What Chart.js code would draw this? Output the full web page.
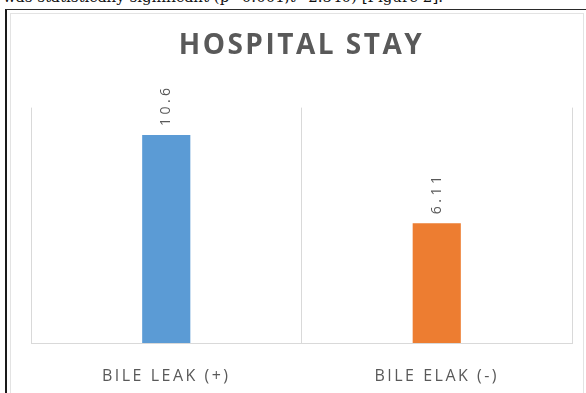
<!DOCTYPE html>
<html>
<head>
<meta charset="utf-8">
<script src="https://cdn.jsdelivr.net/npm/chart.js@4/dist/chart.umd.min.js"></script>
<style>
  html, body { margin: 0; padding: 0; background: #fff; overflow: hidden; }
  body { width: 586px; height: 393px; position: relative; }
  #lead {
    position: absolute; left: 3px; top: -12px; white-space: nowrap;
    font-family: "DejaVu Serif", serif; font-size: 15px; color: #111;
  }
  #frame {
    position: absolute; left: 5px; top: 9px; width: 590px; height: 400px;
    border-left: 2px solid #1a1a1a; border-top: 1px solid #2a2a2a;
  }
  #panel {
    position: absolute; left: 10px; top: 13px; width: 572px; height: 400px;
    border: 1px solid #e3e3e3; background: #fff;
  }
  #wrap { position: absolute; left: 0; top: 0; width: 586px; height: 393px; }
</style>
</head>
<body>
<div id="lead">was statistically significant (p=0.001,t=2.540) [Figure 2].</div>
<div id="frame"></div>
<div id="panel"></div>
<div id="wrap"><canvas id="chart" width="586" height="393"></canvas></div>
<script>
// Mean hospital stay (days) by bile leak status
const categories = ["BILE LEAK (+)", "BILE ELAK (-)"];
const stayDays = [10.6, 6.11];
const barColors = ["#5B9BD5", "#ED7D31"];
const chartTitle = "HOSPITAL STAY";

const textGray = "#595959";

// Spaced lettering for title and axis labels
const letterSpacingPlugin = {
  id: "letterSpacing",
  beforeDraw(chart) { chart.ctx.letterSpacing = "2.5px"; }
};

// Vertical value labels above each bar
const valueLabels = {
  id: "valueLabels",
  afterDatasetsDraw(chart) {
    const ctx = chart.ctx;
    const meta = chart.getDatasetMeta(0);
    meta.data.forEach((bar, i) => {
      ctx.save();
      ctx.letterSpacing = "3.5px";
      ctx.translate(bar.x, bar.y - 9);
      ctx.rotate(-Math.PI / 2);
      ctx.font = "14px 'Open Sans'";
      ctx.fillStyle = textGray;
      ctx.textAlign = "left";
      ctx.textBaseline = "middle";
      ctx.fillText(String(stayDays[i]), 0, 0);
      ctx.restore();
    });
  }
};

new Chart(document.getElementById("chart"), {
  type: "bar",
  data: {
    labels: categories,
    datasets: [{
      data: stayDays,
      backgroundColor: barColors,
      borderWidth: 0,
      barPercentage: 0.178,
      categoryPercentage: 1
    }]
  },
  options: {
    responsive: false,
    animation: false,
    events: [],
    layout: { padding: { left: 31, right: 14, top: 13, bottom: 8 } },
    plugins: {
      legend: { display: false },
      tooltip: { enabled: false },
      title: {
        display: true,
        text: chartTitle,
        color: textGray,
        font: { family: "'Open Sans'", size: 28, weight: "bold" },
        padding: { top: 16, bottom: 45 }
      }
    },
    scales: {
      x: {
        grid: { offset: true, color: "#d9d9d9", drawTicks: false, lineWidth: 1 },
        border: { color: "#d9d9d9" },
        ticks: {
          color: textGray,
          padding: 24,
          font: { family: "'Open Sans'", size: 16 }
        },
        afterFit(scale) { scale.height = 42; }
      },
      y: {
        display: false,
        min: 0,
        max: 12
      }
    }
  },
  plugins: [letterSpacingPlugin, valueLabels]
});
</script>
</body>
</html>
